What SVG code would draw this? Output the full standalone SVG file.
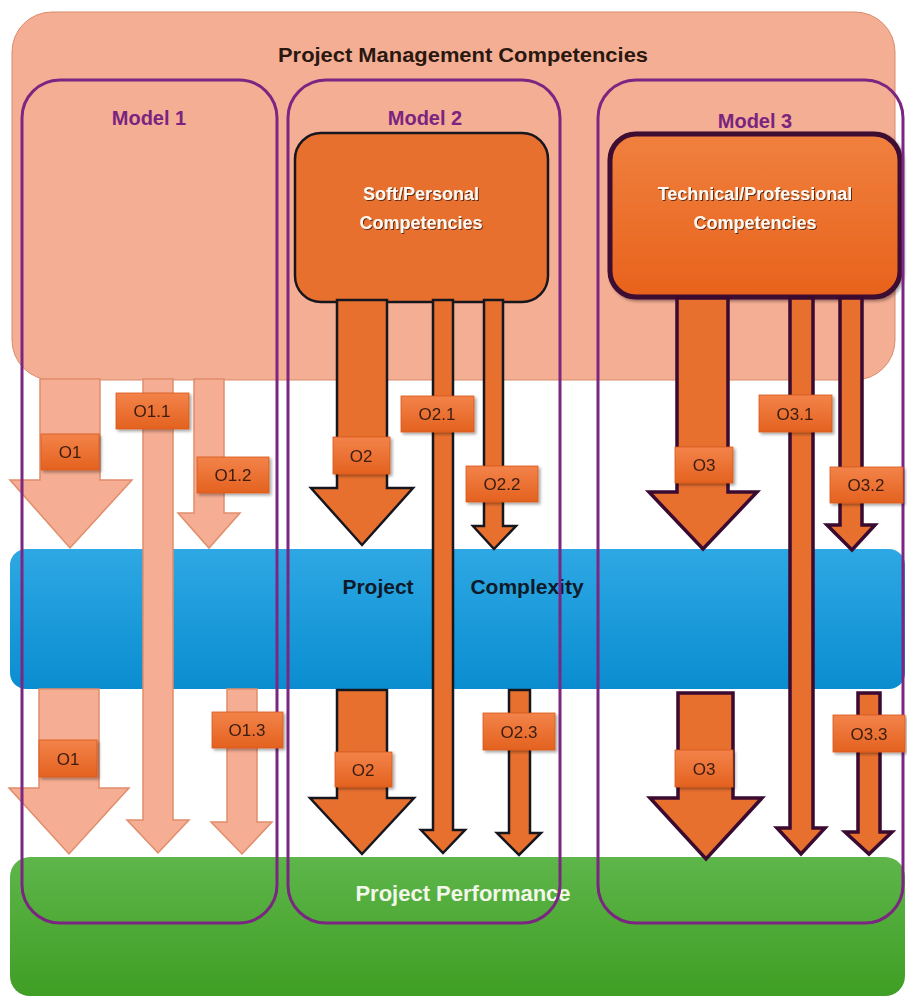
<svg xmlns="http://www.w3.org/2000/svg" width="907" height="996" viewBox="0 0 907 996">
  <defs>
    <linearGradient id="gBlue" x1="0" y1="0" x2="0" y2="1">
      <stop offset="0" stop-color="#2ea8e4"/>
      <stop offset="1" stop-color="#0a8dd0"/>
    </linearGradient>
    <linearGradient id="gGreen" x1="0" y1="0" x2="0" y2="1">
      <stop offset="0" stop-color="#5eb64a"/>
      <stop offset="1" stop-color="#3f9e24"/>
    </linearGradient>
    <linearGradient id="gTech" x1="0" y1="0" x2="0" y2="1">
      <stop offset="0" stop-color="#f0803e"/>
      <stop offset="1" stop-color="#e8621c"/>
    </linearGradient>
    <linearGradient id="gTag" x1="0" y1="0" x2="0" y2="1">
      <stop offset="0" stop-color="#f3834a"/>
      <stop offset="1" stop-color="#e4621f"/>
    </linearGradient>
    <filter id="shadow" x="-20%" y="-20%" width="150%" height="160%">
      <feDropShadow dx="2" dy="2" stdDeviation="1.5" flood-color="#000" flood-opacity="0.35"/>
    </filter>
    <filter id="txtShadow" x="-10%" y="-30%" width="120%" height="160%">
      <feDropShadow dx="1" dy="1" stdDeviation="0.6" flood-color="#3a1a10" flood-opacity="0.8"/>
    </filter>
  </defs>
  <style>
    .band-title { font-family: "Liberation Sans", Arial, sans-serif; font-weight: bold; text-anchor: middle; }
    .model { fill: none; stroke: #7a2682; stroke-width: 3; }
    .model-label { font-family: "Liberation Sans", Arial, sans-serif; font-weight: bold; font-size: 20px; fill: #7a2480; text-anchor: middle; }
    .box-text { font-family: "Liberation Sans", Arial, sans-serif; font-weight: bold; font-size: 18px; fill: #fff8f0; text-anchor: middle; }
    .a1 { fill: #f5ad93; stroke: #e08d6b; stroke-width: 1.5; stroke-linejoin: miter; }
    .a2 { fill: #e8702f; stroke: #16161e; stroke-width: 2.5; stroke-linejoin: miter; }
    .a3 { fill: #e8702f; stroke: #3a0a30; stroke-width: 3.5; stroke-linejoin: miter; }
    .tag rect { fill: url(#gTag); stroke: #d8581a; stroke-width: 0.8; }
    .tag text { font-family: "Liberation Sans", Arial, sans-serif; font-size: 17px; fill: #3a1c10; text-anchor: middle; }
  </style>

  <!-- background layers -->
  <g id="pm-competencies">
    <rect x="12" y="12" width="883" height="368" rx="40" fill="#f4ae94" stroke="#d98b6b" stroke-width="1"/>
    <text class="band-title" x="463" y="62" font-size="20" fill="#2a1810" textLength="370" lengthAdjust="spacingAndGlyphs">Project Management Competencies</text>
  </g>
  <g id="project-complexity">
    <rect x="10" y="549" width="895" height="140" rx="16" fill="url(#gBlue)"/>
    <text class="band-title" x="378" y="594" font-size="21" fill="#0e1a28">Project</text>
    <text class="band-title" x="527" y="594" font-size="21" fill="#0e1a28">Complexity</text>
  </g>
  <g id="project-performance">
    <rect x="10" y="857" width="895" height="139" rx="20" fill="url(#gGreen)"/>
    <text class="band-title" x="463" y="901" font-size="22" fill="#f2f7ea">Project Performance</text>
  </g>

  <!-- competency sources -->
  <g id="soft-personal">
    <rect x="295" y="133" width="253" height="169" rx="26" fill="#e8702f" stroke="#16161e" stroke-width="2.5"/>
    <text class="box-text" x="421" y="200" filter="url(#txtShadow)">Soft/Personal</text>
    <text class="box-text" x="421" y="229" filter="url(#txtShadow)">Competencies</text>
  </g>
  <g id="technical-professional">
    <rect x="610" y="134" width="290" height="163" rx="26" fill="url(#gTech)" stroke="#3d0a33" stroke-width="5" filter="url(#shadow)"/>
    <text class="box-text" x="755" y="200" filter="url(#txtShadow)">Technical/Professional</text>
    <text class="box-text" x="755" y="229" filter="url(#txtShadow)">Competencies</text>
  </g>

  <!-- connectors: block arrows -->
  <g id="connectors">
    <!-- model 1 -->
    <path class="a1" d="M40,379 L100,379 L100,480 L132,480 L70,548 L10,480 L40,480 Z"/>
    <path class="a1" d="M143,379 L173,379 L173,820 L189,820 L158,853 L127,820 L143,820 Z"/>
    <path class="a1" d="M194,379 L224,379 L224,513 L240,513 L209,548 L178,513 L194,513 Z"/>
    <path class="a1" d="M39,689 L99,689 L99,788 L129,788 L69,854 L9,788 L39,788 Z"/>
    <path class="a1" d="M227,689 L257,689 L257,822 L272,822 L242,854 L211,822 L227,822 Z"/>
    <!-- model 2 -->
    <path class="a2" d="M337,300 L387,300 L387,488 L413,488 L362,545 L311,488 L337,488 Z"/>
    <path class="a2" d="M433,300 L453,300 L453,830 L465,830 L443,853 L421,830 L433,830 Z"/>
    <path class="a2" d="M484,300 L503,300 L503,526 L516,526 L494,549 L473,526 L484,526 Z"/>
    <path class="a2" d="M337,690 L387,690 L387,798 L414,798 L362,854 L310,798 L337,798 Z"/>
    <path class="a2" d="M509,690 L530,690 L530,833 L541,833 L519,855 L497,833 L509,833 Z"/>
    <!-- model 3 -->
    <path class="a3" d="M677,298 L728,298 L728,492 L757,492 L703,549 L649,492 L677,492 Z"/>
    <path class="a3" d="M790,298 L813,298 L813,828 L825,828 L801,854 L777,828 L790,828 Z"/>
    <path class="a3" d="M840,298 L862,298 L862,525 L875,525 L852,550 L827,525 L840,525 Z"/>
    <path class="a3" d="M678,693 L733,693 L733,798 L762,798 L706,859 L650,798 L678,798 Z"/>
    <path class="a3" d="M858,693 L880,693 L880,832 L892,832 L869,854 L845,832 L858,832 Z"/>
  </g>

  <!-- model outlines -->
  <g id="model-1">
    <rect class="model" x="22" y="80" width="255" height="843" rx="38"/>
    <text class="model-label" x="149" y="125">Model 1</text>
  </g>
  <g id="model-2">
    <rect class="model" x="288" y="80" width="272" height="843" rx="38"/>
    <text class="model-label" x="425" y="125">Model 2</text>
  </g>
  <g id="model-3">
    <rect class="model" x="598" y="80" width="305" height="843" rx="38"/>
    <text class="model-label" x="755" y="128">Model 3</text>
  </g>

  <!-- outcome tags -->
  <g id="tags" filter="url(#shadow)">
    <g class="tag" id="tag-o1-a"><rect x="41" y="434" width="58" height="36"/><text x="70" y="458">O1</text></g>
    <g class="tag" id="tag-o1-1"><rect x="116" y="393" width="73" height="36"/><text x="152" y="417">O1.1</text></g>
    <g class="tag" id="tag-o1-2"><rect x="197" y="457" width="72" height="36"/><text x="233" y="481">O1.2</text></g>
    <g class="tag" id="tag-o1-b"><rect x="39" y="740" width="58" height="37"/><text x="68" y="765">O1</text></g>
    <g class="tag" id="tag-o1-3"><rect x="212" y="712" width="71" height="36"/><text x="247" y="736">O1.3</text></g>
    <g class="tag" id="tag-o2-a"><rect x="333" y="437" width="57" height="37"/><text x="361" y="462">O2</text></g>
    <g class="tag" id="tag-o2-1"><rect x="401" y="396" width="73" height="36"/><text x="437" y="420">O2.1</text></g>
    <g class="tag" id="tag-o2-2"><rect x="466" y="466" width="72" height="36"/><text x="502" y="490">O2.2</text></g>
    <g class="tag" id="tag-o2-b"><rect x="335" y="752" width="57" height="35"/><text x="363" y="776">O2</text></g>
    <g class="tag" id="tag-o2-3"><rect x="483" y="713" width="72" height="37"/><text x="519" y="738">O2.3</text></g>
    <g class="tag" id="tag-o3-a"><rect x="675" y="447" width="58" height="36"/><text x="704" y="471">O3</text></g>
    <g class="tag" id="tag-o3-1"><rect x="759" y="395" width="73" height="37"/><text x="795" y="420">O3.1</text></g>
    <g class="tag" id="tag-o3-2"><rect x="830" y="467" width="73" height="36"/><text x="866" y="491">O3.2</text></g>
    <g class="tag" id="tag-o3-b"><rect x="675" y="750" width="58" height="37"/><text x="704" y="775">O3</text></g>
    <g class="tag" id="tag-o3-3"><rect x="833" y="715" width="72" height="37"/><text x="869" y="740">O3.3</text></g>
  </g>
</svg>
